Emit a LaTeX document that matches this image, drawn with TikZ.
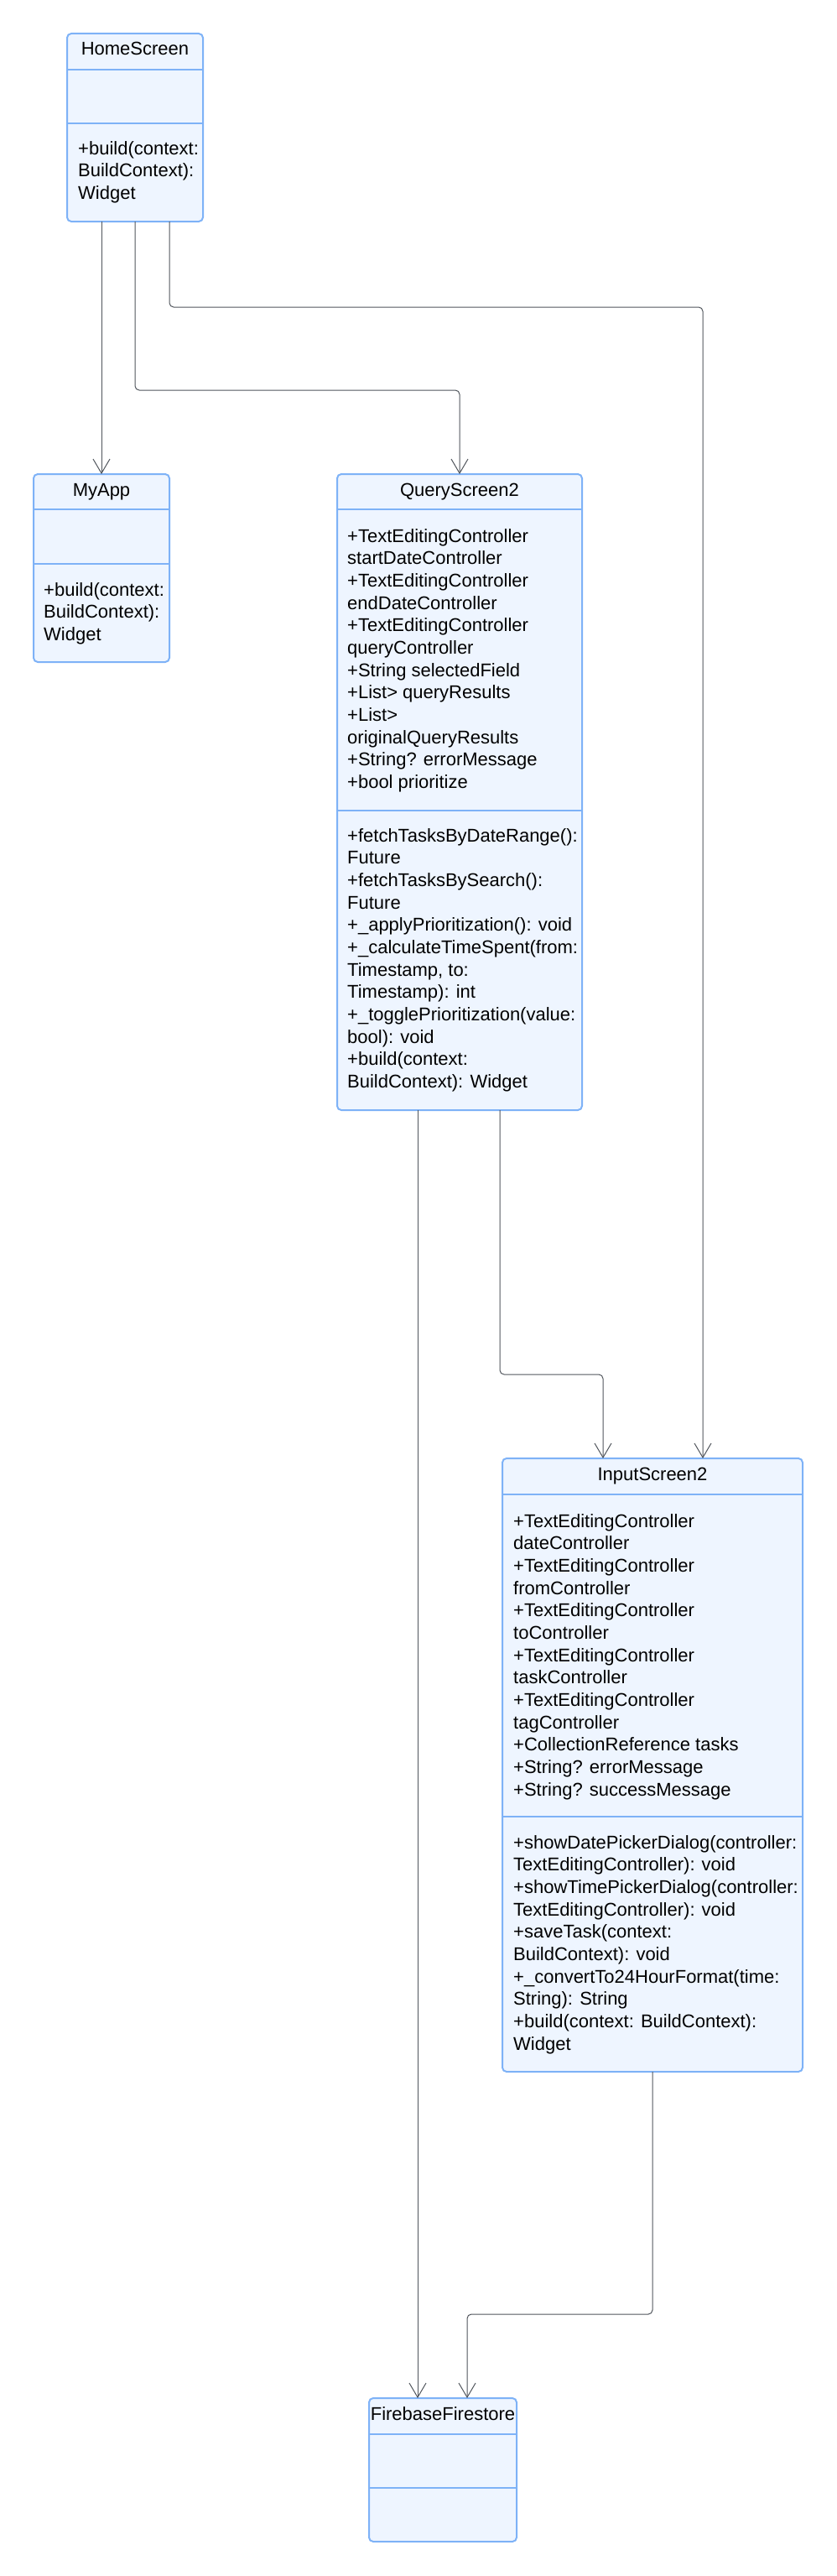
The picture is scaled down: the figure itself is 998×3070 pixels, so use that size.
\documentclass[tikz,border=0pt]{standalone}
\usepackage{fontspec}
\setmainfont{Liberation Sans}
\usetikzlibrary{arrows.meta}
\definecolor{umlblue}{HTML}{7EB2F7}
\definecolor{umlfill}{HTML}{EEF5FF}
\definecolor{umlline}{HTML}{50555C}

\begin{document}
\begin{tikzpicture}[x=1pt,y=-1pt,
    every node/.style={font=\fontsize{22}{26.67}\selectfont},
    classbox/.style={draw=umlblue, fill=umlfill, line width=2pt, rounded corners=5pt, inner sep=0pt, outer sep=0pt, anchor=north west},
    classname/.style={anchor=base, inner sep=0pt},
    members/.style={anchor=north west, inner sep=0pt, align=left},
    divider/.style={draw=umlblue, line width=2pt},
    assoc/.style={draw=umlline, line width=1pt, rounded corners=5pt, -{Straight Barb[length=17pt,width=20pt]}}]
    \useasboundingbox (0,0) rectangle (998,3070);

    % HomeScreen
    \node[classbox, minimum width=162pt, minimum height=224pt] (home) at (80,40) {};
    \draw[divider] ([yshift=-43pt]home.north west) -- ([yshift=-43pt]home.north east);
    \draw[divider] ([yshift=-107pt]home.north west) -- ([yshift=-107pt]home.north east);
    \node[classname] (homeName) at (161,66) {HomeScreen};
    \node[members] (homeOps) at (93,168) {+build(context:\\BuildContext):\\Widget};

    % MyApp
    \node[classbox, minimum width=162pt, minimum height=224pt] (myapp) at (40,565) {};
    \draw[divider] ([yshift=-42pt]myapp.north west) -- ([yshift=-42pt]myapp.north east);
    \draw[divider] ([yshift=-107pt]myapp.north west) -- ([yshift=-107pt]myapp.north east);
    \node[classname] (myappName) at (121,591) {MyApp};
    \node[members] (myappOps) at (52,694) {+build(context:\\BuildContext):\\Widget};

    % QueryScreen2
    \node[classbox, minimum width=292pt, minimum height=758pt] (query) at (402,565) {};
    \draw[divider] ([yshift=-42pt]query.north west) -- ([yshift=-42pt]query.north east);
    \draw[divider] ([yshift=-401pt]query.north west) -- ([yshift=-401pt]query.north east);
    \node[classname] (queryName) at (548,591) {QueryScreen2};
    \node[members] (queryAttrs) at (414,630) {+TextEditingController\\startDateController\\+TextEditingController\\endDateController\\+TextEditingController\\queryController\\+String selectedField\\+List> queryResults\\+List>\\originalQueryResults\\+String? errorMessage\\+bool prioritize};
    \node[members] (queryOps) at (414,987) {+fetchTasksByDateRange():\\Future\\+fetchTasksBySearch():\\Future\\+\_applyPrioritization(): void\\+\_calculateTimeSpent(from:\\Timestamp, to:\\Timestamp): int\\+\_togglePrioritization(value:\\bool): void\\+build(context:\\BuildContext): Widget};

    % InputScreen2
    \node[classbox, minimum width=358pt, minimum height=731pt] (input) at (599,1738) {};
    \draw[divider] ([yshift=-43pt]input.north west) -- ([yshift=-43pt]input.north east);
    \draw[divider] ([yshift=-427pt]input.north west) -- ([yshift=-427pt]input.north east);
    \node[classname] (inputName) at (778,1764) {InputScreen2};
    \node[members] (inputAttrs) at (612,1804) {+TextEditingController\\dateController\\+TextEditingController\\fromController\\+TextEditingController\\toController\\+TextEditingController\\taskController\\+TextEditingController\\tagController\\+CollectionReference tasks\\+String? errorMessage\\+String? successMessage};
    \node[members] (inputOps) at (612,2187) {+showDatePickerDialog(controller:\\TextEditingController): void\\+showTimePickerDialog(controller:\\TextEditingController): void\\+saveTask(context:\\BuildContext): void\\+\_convertTo24HourFormat(time:\\String): String\\+build(context: BuildContext):\\Widget};

    % FirebaseFirestore
    \node[classbox, minimum width=176pt, minimum height=171pt] (fire) at (440,2858) {};
    \draw[divider] ([yshift=-43pt]fire.north west) -- ([yshift=-43pt]fire.north east);
    \draw[divider] ([yshift=-107pt]fire.north west) -- ([yshift=-107pt]fire.north east);
    \node[classname] (fireName) at (528,2884) {FirebaseFirestore};

    % associations
    \draw[assoc] (myapp.north |- home.south) -- (myapp.north);
    \draw[assoc] (home.south) -- ++(0,201) -| (query.north);
    \draw[assoc] ([xshift=41pt]home.south) -- ++(0,102) -| ([xshift=60pt]input.north);
    \draw[assoc] ([xshift=48pt]query.south) -- ++(0,315) -| ([xshift=-59pt]input.north);
    \draw[assoc] ([xshift=-50pt]query.south) -- ([xshift=-30pt]fire.north);
    \draw[assoc] (input.south) -- ++(0,289) -| ([xshift=29pt]fire.north);
\end{tikzpicture}
\end{document}
